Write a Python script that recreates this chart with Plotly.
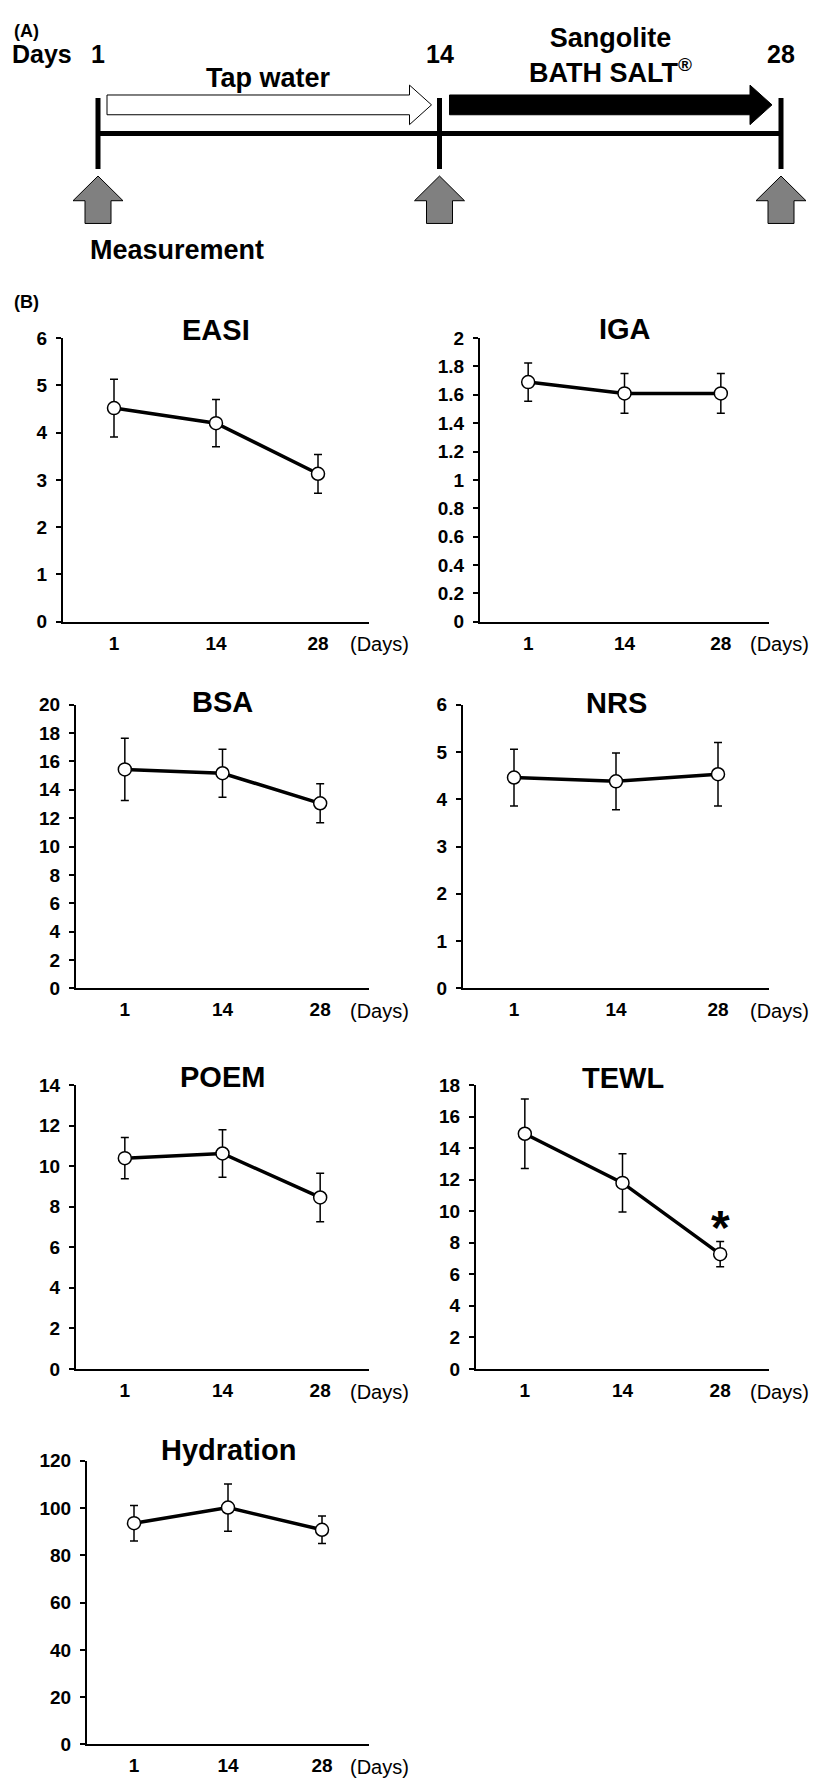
import plotly.graph_objects as go

W, H = 814, 1788
FONT = "Liberation Sans, Arial, sans-serif"

# ---------------- data ----------------
days = ["1", "14", "28"]

easi_mean = [4.52, 4.20, 3.13]
easi_err = [0.61, 0.50, 0.41]
iga_mean = [1.69, 1.61, 1.61]
iga_err = [0.135, 0.14, 0.14]
bsa_mean = [15.44, 15.17, 13.05]
bsa_err = [2.2, 1.7, 1.38]
nrs_mean = [4.46, 4.38, 4.53]
nrs_err = [0.6, 0.6, 0.67]
poem_mean = [10.40, 10.63, 8.46]
poem_err = [1.02, 1.17, 1.2]
tewl_mean = [14.92, 11.80, 7.28]
tewl_err = [2.2, 1.85, 0.8]
hyd_mean = [93.6, 100.2, 90.8]
hyd_err = [7.5, 10.0, 5.8]

titles = ["EASI", "IGA", "BSA", "NRS", "POEM", "TEWL", "Hydration"]
means = [easi_mean, iga_mean, bsa_mean, nrs_mean, poem_mean, tewl_mean, hyd_mean]
errs = [easi_err, iga_err, bsa_err, nrs_err, poem_err, tewl_err, hyd_err]
y_max = [6, 2, 20, 6, 14, 18, 120]
y_step = [1, 0.2, 2, 1, 2, 2, 20]

timeline_days = ["1", "14", "28"]

# ---------------- layout (pixel boxes) ----------------
# plot area boxes: x_left, x_right, y_top, y_bottom (px)
boxes = [
    (63, 369, 332, 619),
    (480, 769, 332, 619),
    (76, 369, 703, 990),
    (463, 769, 703, 990),
    (76, 369, 1088, 1375),
    (476, 769, 1088, 1375),
    (87, 369, 1468, 1755),
]
title_dy = [8, 9, 3, 2, 8, 7, 11]
days_label_x = [379, 779, 379, 779, 379, 779, 379]


def px(x):
    return x / W


def py(y):
    return 1 - y / H


fig = go.Figure()
layout = dict(
    width=W, height=H,
    margin=dict(l=0, r=0, t=0, b=0),
    paper_bgcolor="white", plot_bgcolor="white",
    showlegend=False,
    font=dict(family=FONT, color="black"),
)
annotations = []
shapes = []

for i, (t, m, e, ymx, dy) in enumerate(zip(titles, means, errs, y_max, y_step)):
    k = "" if i == 0 else str(i + 1)
    x0, x1, y0, y1 = boxes[i]
    fig.add_trace(go.Scatter(
        x=days, y=m, xaxis="x" + k, yaxis="y" + k,
        mode="lines+markers",
        line=dict(color="black", width=3.5),
        marker=dict(symbol="circle", size=13, color="white",
                    line=dict(color="black", width=1.5)),
        error_y=dict(type="data", array=e, visible=True, color="black",
                     thickness=1.5, width=4),
        hoverinfo="skip",
    ))
    n = int(round(ymx / dy))
    tv = [round(j * dy, 6) for j in range(n + 1)]
    layout["xaxis" + k] = dict(
        domain=[px(x0), px(x1)], anchor="y" + k, type="category",
        range=[-0.5, 2.5], showline=True, linecolor="black", linewidth=2,
        ticks="", showgrid=False, zeroline=False,
        tickfont=dict(family=FONT, size=19, color="black", weight="bold"),
        ticklabelstandoff=3,
    )
    layout["yaxis" + k] = dict(
        domain=[py(y1), py(y0)], anchor="x" + k, range=[0, ymx],
        tickmode="array", tickvals=tv, ticktext=[f"{v:g}" for v in tv],
        ticks="outside", ticklen=5, tickwidth=2, tickcolor="black",
        showline=True, linecolor="black", linewidth=2,
        showgrid=False, zeroline=False,
        tickfont=dict(family=FONT, size=19, color="black", weight="bold"),
        ticklabelstandoff=5,
    )
    annotations.append(dict(
        text=f"<b>{t}</b>", xref="paper", yref="paper",
        x=px((x0 + x1) / 2), y=py(y0 - title_dy[i]),
        xanchor="center", yanchor="middle", showarrow=False,
        font=dict(family=FONT, size=29, color="black"),
    ))
    annotations.append(dict(
        text="(Days)", xref="paper", yref="paper",
        x=px(days_label_x[i]), y=py(y1 + 23),
        xanchor="center", yanchor="middle", showarrow=False,
        font=dict(family=FONT, size=20, color="black"),
    ))

# significance mark on TEWL day 28 (category index of day 28)
annotations.append(dict(
    text="<b>*</b>", xref="x6", yref="y6", x=days.index("28"),
    y=tewl_mean[2] + tewl_err[2], yshift=14,
    xanchor="center", yanchor="middle", showarrow=False,
    font=dict(family=FONT, size=48, color="black"),
))

# ---------------- panel A timeline ----------------
TL_X0, TL_STEP, TL_H = 98, 341.5, 270
layout["xaxis8"] = dict(domain=[0, 1], anchor="y8", visible=False,
                        range=[-TL_X0 / TL_STEP, (W - TL_X0) / TL_STEP])
layout["yaxis8"] = dict(domain=[py(TL_H), 1], anchor="x8", visible=False,
                        range=[TL_H, 0])
fig.add_trace(go.Scatter(x=[0], y=[0], xaxis="x8", yaxis="y8", mode="markers",
                         marker=dict(size=1, opacity=0), hoverinfo="skip"))

u = 1 / TL_STEP  # one pixel in timeline index units
idx = list(range(len(timeline_days)))

# main horizontal line
shapes.append(dict(type="line", xref="x8", yref="y8", x0=idx[0], x1=idx[-1],
                   y0=125, y1=125, line=dict(color="black", width=5)))
for i in idx:
    shapes.append(dict(type="line", xref="x8", yref="y8", x0=i, x1=i,
                       y0=89, y1=161, line=dict(color="black", width=5)))
    # grey measurement arrow
    pth = (f"M {i},168 L {i + 25*u},193 L {i + 13*u},193 L {i + 13*u},216 "
           f"L {i - 13*u},216 L {i - 13*u},193 L {i - 25*u},193 Z")
    shapes.append(dict(type="path", xref="x8", yref="y8", path=pth,
                       fillcolor="#808080", line=dict(color="black", width=1)))


def right_arrow(xa, xb):
    hb = xb - 22 * u
    return (f"M {xa},86 L {hb},86 L {hb},76 L {xb},96 L {hb},116 "
            f"L {hb},106 L {xa},106 Z")


shapes.append(dict(type="path", xref="x8", yref="y8",
                   path=right_arrow(idx[0] + 9 * u, idx[1] - 8 * u),
                   fillcolor="white", line=dict(color="black", width=1)))
shapes.append(dict(type="path", xref="x8", yref="y8",
                   path=right_arrow(idx[1] + 10 * u, idx[2] - 9 * u),
                   fillcolor="black", line=dict(color="black", width=1)))

for i, d in zip(idx, timeline_days):
    annotations.append(dict(text=f"<b>{d}</b>", xref="x8", yref="y8", x=i, y=45,
                            xanchor="center", yanchor="middle", showarrow=False,
                            font=dict(family=FONT, size=25)))
annotations += [
    dict(text="<b>Days</b>", xref="paper", yref="paper", x=px(74), y=py(45),
         xanchor="right", yanchor="middle", showarrow=False,
         font=dict(family=FONT, size=25)),
    dict(text="<b>(A)</b>", xref="paper", yref="paper", x=px(12), y=py(21),
         xanchor="left", yanchor="middle", showarrow=False,
         font=dict(family=FONT, size=18)),
    dict(text="<b>(B)</b>", xref="paper", yref="paper", x=px(12), y=py(295),
         xanchor="left", yanchor="middle", showarrow=False,
         font=dict(family=FONT, size=18)),
    dict(text="<b>Tap water</b>", xref="x8", yref="y8", x=0.5, y=69,
         xanchor="center", yanchor="middle", showarrow=False,
         font=dict(family=FONT, size=27)),
    dict(text="<b>Sangolite<br>BATH SALT<sup>®</sup></b>", xref="x8", yref="y8",
         x=1.5, y=46, xanchor="center", yanchor="middle", showarrow=False,
         font=dict(family=FONT, size=27)),
    dict(text="<b>Measurement</b>", xref="paper", yref="paper", x=px(88),
         y=py(243), xanchor="left", yanchor="middle", showarrow=False,
         font=dict(family=FONT, size=27)),
]

layout["annotations"] = annotations
layout["shapes"] = shapes
fig.update_layout(**layout)
fig.write_html("out.html",
               config={"displayModeBar": False, "staticPlot": True},
               post_script="document.body.style.margin='0px';"
                           "document.body.style.overflow='hidden';")
